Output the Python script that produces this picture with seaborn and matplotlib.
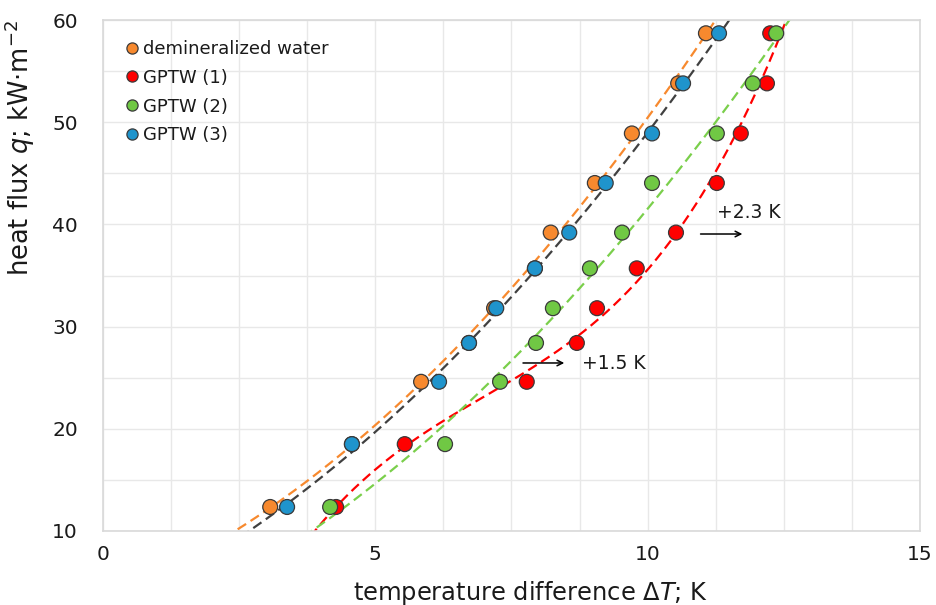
import numpy as np
import pandas as pd
import matplotlib
matplotlib.use("Agg")
import matplotlib.pyplot as plt
import seaborn as sns

# ---- data ----
q_levels = [12.35, 18.5, 24.6, 28.4, 31.8, 35.7, 39.2, 44.05, 48.9, 53.8, 58.7]
dT_water = [3.07, 4.57, 5.84, 6.72, 7.18, 7.93, 8.22, 9.03, 9.71, 10.56, 11.07]
dT_gptw1 = [4.28, 5.54, 7.78, 8.70, 9.07, 9.80, 10.52, 11.27, 11.71, 12.19, 12.25]
dT_gptw2 = [4.17, 6.28, 7.29, 7.95, 8.26, 8.94, 9.53, 10.08, 11.27, 11.93, 12.36]
dT_gptw3 = [3.38, 4.57, 6.17, 6.72, 7.22, 7.93, 8.56, 9.23, 10.08, 10.65, 11.31]

series_names = ["demineralized water", "GPTW (1)", "GPTW (2)", "GPTW (3)"]
point_colors = ["#F7892E", "#FF0000", "#70C844", "#1F94CC"]
fit_colors = ["#F7892E", "#FF0000", "#7ACF4B", "#404040"]
fit_orders = [2, 3, 2, 2]

x_ticks = [0, 5, 10, 15]
y_ticks = [10, 20, 30, 40, 50, 60]

all_dT = [dT_water, dT_gptw1, dT_gptw2, dT_gptw3]
frames = []
for name, vals in zip(series_names, all_dT):
    frames.append(pd.DataFrame({"dT": vals, "q": q_levels, "series": name}))
df = pd.concat(frames, ignore_index=True)

sns.set_style("white")
plt.rcParams['font.family'] = ['DejaVu Sans']
plt.rcParams['mathtext.fontset'] = 'dejavusans'

fig = plt.figure(figsize=(9.37, 6.05), dpi=100)
ax = fig.add_axes([103/937, 1 - 531/605, (920 - 103)/937, (531 - 20)/605])

ax.set_xlim(0, 15)
ax.set_ylim(10, 60)
ax.set_xticks(x_ticks)
ax.set_yticks(y_ticks)
ax.set_xticks(np.arange(0, 15.01, 1.25), minor=True)
ax.set_yticks(np.arange(10, 60.01, 5), minor=True)
ax.grid(True, which="both", color="#E8E8E8", linewidth=1.0)
ax.set_axisbelow(True)
ax.tick_params(which="both", length=0, labelsize=14.5, colors="#1a1a1a")
ax.tick_params(axis="y", pad=18)
ax.tick_params(axis="x", pad=10)
for s in ax.spines.values():
    s.set_color("#D9D9D9")
    s.set_linewidth(1.2)

# polynomial trend lines of q against dT (Excel-style)
xx = np.linspace(1.5, 13.5, 800)
for name, vals, col, order in zip(series_names, all_dT, fit_colors, fit_orders):
    c = np.polyfit(vals, q_levels, order)
    yy = np.polyval(c, xx)
    mask = (yy > 7) & (yy < 63) & (xx > min(vals) - 2.0)
    sub = pd.DataFrame({"dT": xx[mask], "q": yy[mask]})
    ax.plot(sub.dT, sub.q, color=col, linewidth=1.6, dashes=(4.5, 2.4), zorder=2)

sns.scatterplot(data=df, x="dT", y="q", hue="series", hue_order=series_names,
                palette=point_colors, s=115, edgecolor="#3a3a3a", linewidth=0.9,
                ax=ax, zorder=3, legend=True)

leg = ax.legend(loc="upper left", bbox_to_anchor=(0.0, 1.0), frameon=False,
                fontsize=13, handlelength=1.0, handletextpad=0.1, labelspacing=0.6,
                borderaxespad=0.7, markerscale=0.75)
for t in leg.get_texts():
    t.set_color("#1a1a1a")

ax.set_xlabel("temperature difference Δ$T$; K", fontsize=17.4, color="#1a1a1a")
ax.xaxis.set_label_coords(0.523, -0.093)
ax.set_ylabel("heat flux $q$; kW·m$^{-2}$", fontsize=18.5, color="#1a1a1a")
ax.yaxis.set_label_coords(-0.081, 0.75)

# shift annotations
ax.annotate("", xy=(11.79, 39.06), xytext=(10.92, 39.06),
            arrowprops=dict(arrowstyle="->", color="black", lw=1.1))
ax.text(11.27, 41.2, "+2.3 K", fontsize=13.5, va="center", ha="left", color="#1a1a1a")
ax.annotate("", xy=(8.52, 26.44), xytext=(7.66, 26.44),
            arrowprops=dict(arrowstyle="->", color="black", lw=1.1))
ax.text(8.79, 26.4, "+1.5 K", fontsize=13.5, va="center", ha="left", color="#1a1a1a")

fig.savefig("out.png", dpi=100)
